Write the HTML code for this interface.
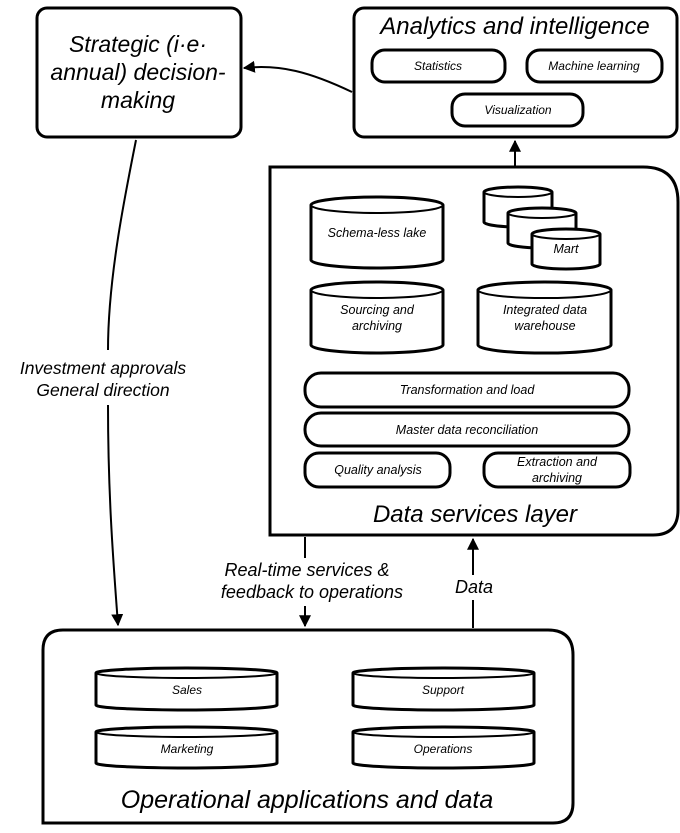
<!DOCTYPE html>
<html><head><meta charset="utf-8"><style>
html,body{margin:0;padding:0;background:#fff;}
svg{display:block;}
text{font-family:"Liberation Sans",sans-serif;font-style:italic;fill:#000;text-anchor:middle;}
.b{fill:#fff;stroke:#000;stroke-width:3;}
.l{fill:none;stroke:#000;stroke-width:2;}
</style></head><body>
<svg width="680" height="833" viewBox="0 0 680 833" xmlns="http://www.w3.org/2000/svg">
<defs>
<marker id="ah" viewBox="0 0 10 10" refX="9" refY="5" markerWidth="6" markerHeight="6" orient="auto-start-reverse"><path d="M0,0 L10,5 L0,10 z" fill="#000"/></marker>
</defs>
<!-- Strategic -->
<rect class="b" x="37" y="8" width="204" height="129" rx="10"/>
<text x="138" y="52" font-size="23">Strategic (i·e·</text>
<text x="138" y="80" font-size="23">annual) decision-</text>
<text x="138" y="108" font-size="23">making</text>
<!-- Analytics -->
<rect class="b" x="354" y="8" width="323" height="129" rx="10"/>
<text x="515" y="34" font-size="24">Analytics and intelligence</text>
<rect class="b" x="372" y="50" width="133" height="32" rx="13"/>
<text x="438" y="70" font-size="12">Statistics</text>
<rect class="b" x="527" y="50" width="135" height="32" rx="13"/>
<text x="594" y="70" font-size="12">Machine learning</text>
<rect class="b" x="452" y="94" width="131" height="32" rx="13"/>
<text x="518" y="114" font-size="12">Visualization</text>
<path class="l" d="M352,92 C310,72 280,64 244,68" marker-end="url(#ah)"/>
<path class="l" d="M515,166 L515,141" marker-end="url(#ah)"/>
<!-- Data services -->
<path class="b" d="M270,167 L643,167 Q678,167 678,202 L678,510 Q678,535 653,535 L270,535 Z"/>
<text x="475" y="522" font-size="24">Data services layer</text>
<path class="b" d="M311,205 A66,8 0 0 1 443,205 L443,260 A66,8 0 0 1 311,260 Z"/><path class="l" d="M311,205 A66,8 0 0 0 443,205"/>
<text x="377" y="237" font-size="12.5">Schema-less lake</text>
<path class="b" d="M484,192 A34,5 0 0 1 552,192 L552,222 A34,5 0 0 1 484,222 Z"/><path class="l" d="M484,192 A34,5 0 0 0 552,192"/>
<path class="b" d="M508,213 A34,5 0 0 1 576,213 L576,243 A34,5 0 0 1 508,243 Z"/><path class="l" d="M508,213 A34,5 0 0 0 576,213"/>
<path class="b" d="M532,234 A34,5 0 0 1 600,234 L600,264 A34,5 0 0 1 532,264 Z"/><path class="l" d="M532,234 A34,5 0 0 0 600,234"/>
<text x="566" y="253" font-size="12.5">Mart</text>
<path class="b" d="M311,290 A66,8 0 0 1 443,290 L443,345 A66,8 0 0 1 311,345 Z"/><path class="l" d="M311,290 A66,8 0 0 0 443,290"/>
<text x="377" y="314" font-size="12.5">Sourcing and</text><text x="377" y="330" font-size="12.5">archiving</text>
<path class="b" d="M478,290 A66,8 0 0 1 611,290 L611,345 A66,8 0 0 1 478,345 Z"/><path class="l" d="M478,290 A66,8 0 0 0 611,290"/>
<text x="545" y="314" font-size="12.5">Integrated data</text><text x="545" y="330" font-size="12.5">warehouse</text>
<rect class="b" x="305" y="373" width="324" height="34" rx="16"/>
<text x="467" y="394" font-size="12.5">Transformation and load</text>
<rect class="b" x="305" y="413" width="324" height="33" rx="16"/>
<text x="467" y="434" font-size="12.5">Master data reconciliation</text>
<rect class="b" x="305" y="453" width="145" height="34" rx="14"/>
<text x="378" y="474" font-size="12.5">Quality analysis</text>
<rect class="b" x="484" y="453" width="146" height="34" rx="14"/>
<text x="557" y="466" font-size="12.5">Extraction and</text><text x="557" y="482" font-size="12.5">archiving</text>
<!-- connectors -->
<path class="l" d="M136,140 C124,200 108,280 108,350"/>
<path class="l" d="M108,405 C108,500 114,570 118,625" marker-end="url(#ah)"/>
<text x="103" y="374" font-size="17.5">Investment approvals</text>
<text x="103" y="396" font-size="17.5">General direction</text>
<path class="l" d="M305,537 L305,558"/>
<path class="l" d="M305,606 L305,626" marker-end="url(#ah)"/>
<text x="307" y="576" font-size="18">Real-time services &amp;</text>
<text x="312" y="598" font-size="18">feedback to operations</text>
<path class="l" d="M473,575 L473,539" marker-end="url(#ah)"/>
<path class="l" d="M473,600 L473,628"/>
<text x="474" y="593" font-size="18">Data</text>
<!-- Operational -->
<path class="b" d="M63,630 L548,630 Q573,630 573,655 L573,803 Q573,823 553,823 L43,823 L43,650 Q43,630 63,630 Z"/>
<text x="307" y="808" font-size="25">Operational applications and data</text>
<path class="b" d="M96,673 A90,5 0 0 1 277,673 L277,705 A90,5 0 0 1 96,705 Z"/><path class="l" d="M96,673 A90,5 0 0 0 277,673"/>
<text x="187" y="694" font-size="12">Sales</text>
<path class="b" d="M353,673 A90,5 0 0 1 534,673 L534,705 A90,5 0 0 1 353,705 Z"/><path class="l" d="M353,673 A90,5 0 0 0 534,673"/>
<text x="443" y="694" font-size="12">Support</text>
<path class="b" d="M96,732 A90,5 0 0 1 277,732 L277,763 A90,5 0 0 1 96,763 Z"/><path class="l" d="M96,732 A90,5 0 0 0 277,732"/>
<text x="187" y="753" font-size="12">Marketing</text>
<path class="b" d="M353,732 A90,5 0 0 1 534,732 L534,763 A90,5 0 0 1 353,763 Z"/><path class="l" d="M353,732 A90,5 0 0 0 534,732"/>
<text x="443" y="753" font-size="12">Operations</text>
</svg>
</body></html>
